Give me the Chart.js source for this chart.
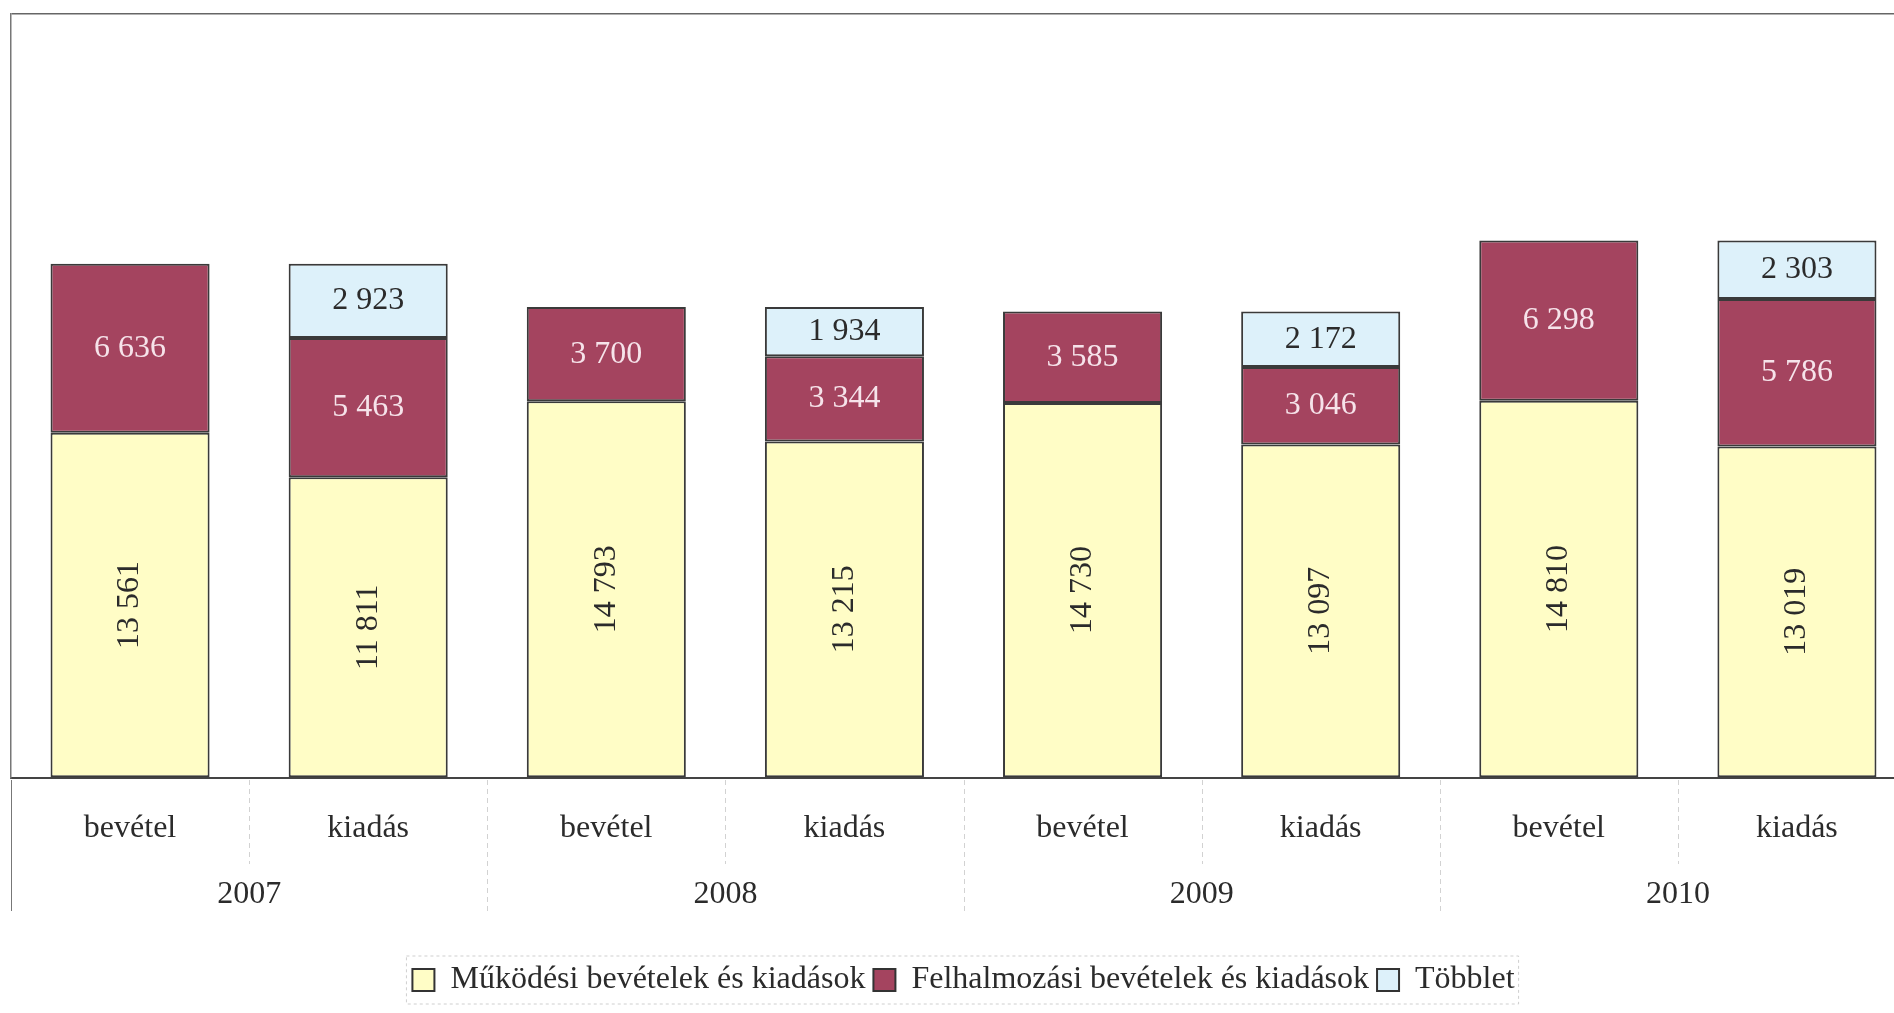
<!DOCTYPE html>
<html>
<head>
<meta charset="utf-8">
<script src="https://cdn.jsdelivr.net/npm/chart.js@4/dist/chart.umd.min.js"></script>
<style>
    html, body { margin: 0; padding: 0; background: #fff; overflow: hidden; }
    #wrap { width: 1916px; height: 1013px; position: relative; }
</style>
</head>
<body>
<div id="wrap"><canvas id="chart"></canvas></div>
<script>
// adatok
const categories = ["bevétel", "kiadás", "bevétel", "kiadás", "bevétel", "kiadás", "bevétel", "kiadás"];
const years = ["2007", "2008", "2009", "2010"];
const mukodesi = [13561, 11811, 14793, 13215, 14730, 13097, 14810, 13019];
const felhalmozasi = [6636, 5463, 3700, 3344, 3585, 3046, 6298, 5786];
const tobblet = [null, 2923, null, 1934, null, 2172, null, 2303];

const serif = "'Liberation Serif', 'DejaVu Serif', serif";

const fmt = (v) => String(v).replace(/\B(?=(\d{3})+(?!\d))/g, " ");

// feliratok a sávokon belül
const barLabels = {
    id: "barLabels",
    afterDatasetsDraw(chart) {
        const ctx = chart.ctx;
        chart.data.datasets.forEach((ds, i) => {
            const meta = chart.getDatasetMeta(i);
            meta.data.forEach((bar, j) => {
                const v = ds.data[j];
                if (v === null || v === undefined) return;
                const p = bar.getProps(["x", "y", "base"], true);
                const cy = (p.y + p.base) / 2;
                ctx.save();
                ctx.font = "32px " + serif;
                ctx.textAlign = "center";
                ctx.textBaseline = "middle";
                ctx.fillStyle = ds.labelColor;
                ctx.translate(p.x, cy);
                if (i === 0) ctx.rotate(-Math.PI / 2);
                ctx.fillText(fmt(v), 0, 0);
                ctx.restore();
            });
        });
    },
};

// elválasztó vonalak a tengelyfeliratok között
const separators = {
    id: "separators",
    afterDraw(chart) {
        const xs = chart.scales.x;
        const ctx = chart.ctx;
        const w = (xs.right - xs.left) / categories.length;
        ctx.save();
        ctx.lineWidth = 1;
        for (let i = 0; i <= categories.length; i++) {
            const px = Math.round(xs.left + i * w) + 0.5;
            const yearLine = i % 2 === 0;
            ctx.strokeStyle = i === 0 ? "#777" : "#d2d2d2";
            ctx.setLineDash(i === 0 ? [] : [5, 4]);
            ctx.beginPath();
            ctx.moveTo(px, xs.top + 2);
            ctx.lineTo(px, xs.top + (yearLine ? 133 : 86));
            ctx.stroke();
        }
        ctx.restore();
    },
};

// szaggatott keret a jelmagyarázat körül
const legendFrame = {
    id: "legendFrame",
    afterDraw(chart) {
        const lg = chart.legend;
        if (!lg || !lg.legendHitBoxes || !lg.legendHitBoxes.length) return;
        const ctx = chart.ctx;
        let minX = Infinity, maxX = -Infinity;
        lg.legendHitBoxes.forEach((b) => {
            minX = Math.min(minX, b.left);
            maxX = Math.max(maxX, b.left + b.width);
        });
        const b0 = lg.legendHitBoxes[0];
        const top = b0.top - 8;
        const bottom = b0.top + b0.height + 8;
        ctx.save();
        ctx.strokeStyle = "#cfcfcf";
        ctx.lineWidth = 1;
        ctx.setLineDash([3, 3]);
        ctx.strokeRect(minX - 6, top, maxX - minX + 10, bottom - top);
        ctx.restore();
    },
};

new Chart(document.getElementById("chart"), {
    type: "bar",
    data: {
        labels: categories,
        datasets: [
            {
                label: "Működési bevételek és kiadások",
                data: mukodesi,
                backgroundColor: "#fffdc6",
                borderColor: "#3a3a3a",
                borderWidth: 2,
                borderSkipped: false,
                labelColor: "#2b2b2b",
            },
            {
                label: "Felhalmozási bevételek és kiadások",
                data: felhalmozasi,
                backgroundColor: "#a4445f",
                borderColor: "#3a3a3a",
                borderWidth: 2,
                borderSkipped: false,
                labelColor: "#f6e3ea",
            },
            {
                label: "Többlet",
                data: tobblet,
                backgroundColor: "#ddf1fa",
                borderColor: "#3a3a3a",
                borderWidth: 2,
                borderSkipped: false,
                labelColor: "#2b2b2b",
            },
        ],
    },
    options: {
        responsive: true,
        maintainAspectRatio: false,
        animation: false,
        categoryPercentage: 1,
        barPercentage: 0.668,
        layout: { padding: { left: 11, right: 0, top: 14, bottom: 7 } },
        plugins: {
            tooltip: { enabled: false },
            legend: {
                position: "bottom",
                labels: {
                    font: { family: serif, size: 32 },
                    color: "#2b2b2b",
                    boxWidth: 22,
                    boxHeight: 22,
                    padding: 8,
                    generateLabels(chart) {
                        return chart.data.datasets.map((ds, i) => ({
                            text: ds.label,
                            fillStyle: ds.backgroundColor,
                            strokeStyle: "#333",
                            lineWidth: 2,
                            datasetIndex: i,
                            fontColor: "#2b2b2b",
                        }));
                    },
                },
            },
        },
        scales: {
            x: {
                stacked: true,
                border: { display: true, color: "#444", width: 2 },
                grid: { display: false },
                ticks: {
                    font: { family: serif, size: 32 },
                    color: "#2b2b2b",
                    padding: 23,
                    maxRotation: 0,
                    autoSkip: false,
                },
                afterFit(scale) {
                    scale.height = 82;
                },
            },
            x2: {
                type: "category",
                labels: years,
                position: "bottom",
                offset: true,
                border: { display: false },
                grid: { display: false },
                ticks: {
                    font: { family: serif, size: 32 },
                    color: "#2b2b2b",
                    padding: 7,
                    maxRotation: 0,
                    autoSkip: false,
                },
                afterFit(scale) {
                    scale.height = 96;
                },
            },
            y: {
                stacked: true,
                min: 0,
                max: 30000,
                border: { display: true, color: "#777", width: 1.5 },
                grid: {
                    drawTicks: false,
                    color: (c) => (c.tick && c.tick.value === 30000 ? "#666" : "transparent"),
                    lineWidth: 1.5,
                },
                ticks: { display: false },
            },
        },
    },
    plugins: [barLabels, separators, legendFrame],
});
</script>
</body>
</html>
